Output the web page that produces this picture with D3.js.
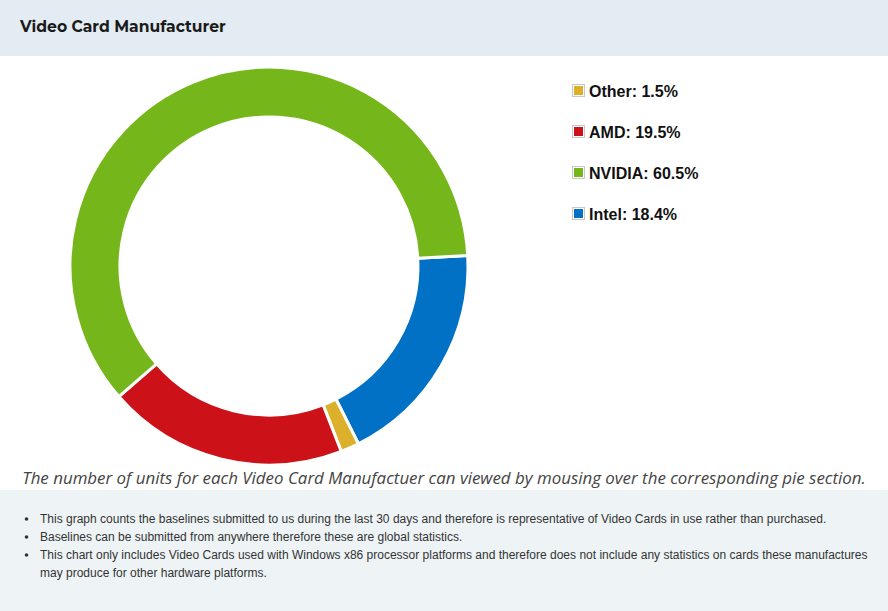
<!DOCTYPE html>
<html><head><meta charset="utf-8">
<script src="https://cdn.jsdelivr.net/npm/d3@7"></script>
<style>
html,body{margin:0;padding:0;background:#fff;}
svg{display:block;}
</style></head>
<body>
<svg id="c" width="888" height="611"></svg>
<script>
const categories = ["Other", "AMD", "NVIDIA", "Intel"];
const shares = [1.5, 19.5, 60.5, 18.4];
const colors = ["#dcb02b", "#cc1118", "#75b71b", "#0071c5"];
const drawOrder = ["Intel", "Other", "AMD", "NVIDIA"];
const title = "Video Card Manufacturer";
const caption = "The number of units for each Video Card Manufactuer can viewed by mousing over the corresponding pie section.";
const notes = [
  "This graph counts the baselines submitted to us during the last 30 days and therefore is representative of Video Cards in use rather than purchased.",
  "Baselines can be submitted from anywhere therefore these are global statistics.",
  "This chart only includes Video Cards used with Windows x86 processor platforms and therefore does not include any statistics on cards these manufactures",
  "may produce for other hardware platforms."
];

const svg = d3.select("#c");
// header
svg.append("rect").attr("x",0).attr("y",0).attr("width",888).attr("height",56).attr("fill","#e2ecf2");
svg.append("text").attr("x",20).attr("y",32).text(title)
  .attr("font-family","Montserrat, 'Open Sans', sans-serif").attr("font-weight",700)
  .attr("font-size",15.6).attr("fill","#1a1a1a");

// donut
const cx = 269, cy = 266, rOut = 199, rIn = 149;
const startA = 87 * Math.PI/180;
const data = drawOrder.map(n => ({name:n, value: shares[categories.indexOf(n)], color: colors[categories.indexOf(n)]}));
const pie = d3.pie().sort(null).value(d=>d.value).startAngle(startA).endAngle(startA + 2*Math.PI);
const arc = d3.arc().innerRadius(rIn).outerRadius(rOut);
const g = svg.append("g").attr("transform",`translate(${cx},${cy})`);
g.selectAll("path").data(pie(data)).join("path")
  .attr("d",arc).attr("fill",d=>d.data.color)
  .attr("stroke","#fff").attr("stroke-width",3).attr("stroke-linejoin","round");

// legend
const ly = d3.scalePoint().domain(categories).range([91, 214]);
const lg = svg.append("g");
categories.forEach((c,i)=>{
  const y = ly(c);
  lg.append("rect").attr("x",572.5).attr("y",y-6.5).attr("width",12).attr("height",12)
    .attr("fill","#fff").attr("stroke","#c8c8c8").attr("stroke-width",1);
  lg.append("rect").attr("x",574).attr("y",y-5).attr("width",9).attr("height",9).attr("fill",colors[i]);
  lg.append("text").attr("x",589).attr("y",y+5.5).text(`${c}: ${shares[i]}%`)
    .attr("font-family","Arial, 'Liberation Sans', sans-serif").attr("font-weight",700)
    .attr("font-size",16).attr("fill","#111");
});

// caption
svg.append("text").attr("x",444).attr("y",484).attr("text-anchor","middle").text(caption)
  .attr("font-family","'Open Sans', sans-serif").attr("font-style","italic").attr("font-weight",400)
  .attr("font-size",16.9).attr("fill","#444");

// footer
svg.append("rect").attr("x",0).attr("y",490).attr("width",888).attr("height",121).attr("fill","#eef3f6");
const ny = [523, 541, 559, 577];
notes.forEach((t,i)=>{
  if (i < 3) svg.append("circle").attr("cx",26.5).attr("cy",ny[i]-4).attr("r",1.8).attr("fill","#333");
  svg.append("text").attr("x",40).attr("y",ny[i]).text(t)
    .attr("font-family","Arial, 'Liberation Sans', sans-serif").attr("font-size",12).attr("fill","#333");
});
</script>
</body></html>
